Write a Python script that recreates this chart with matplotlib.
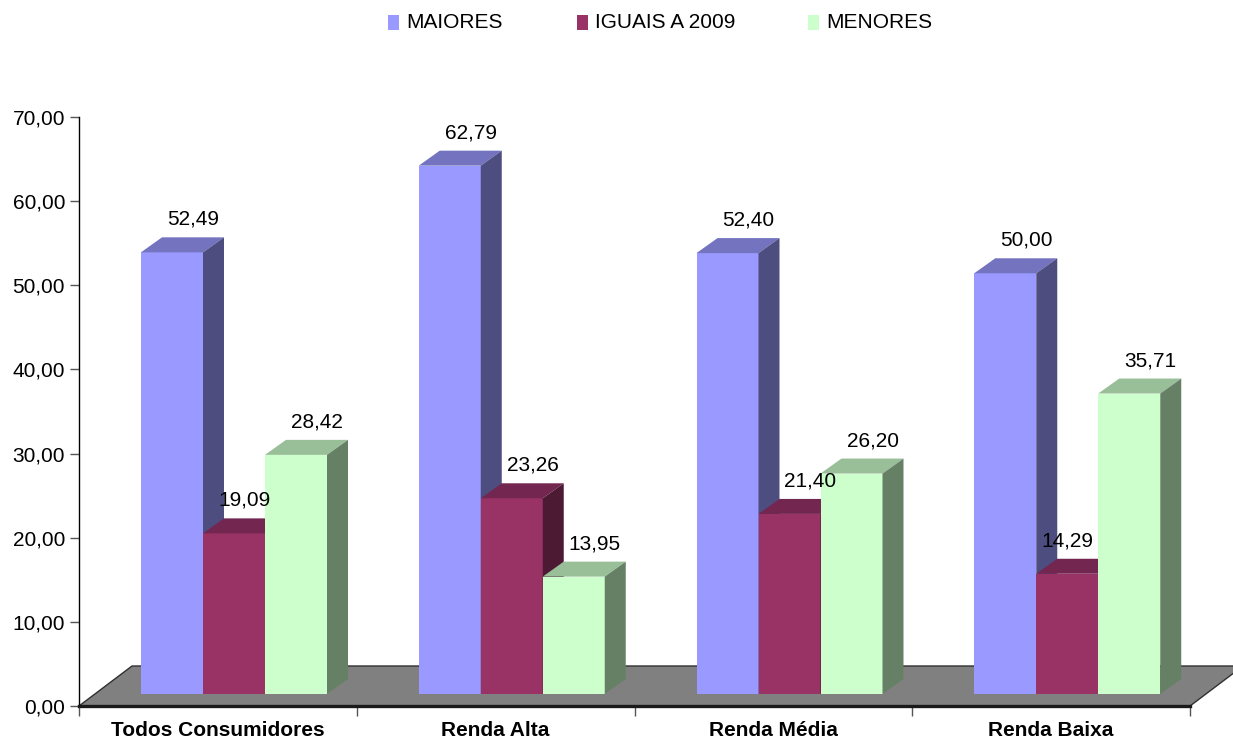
import matplotlib.pyplot as plt
from matplotlib.patches import Polygon, Rectangle

categorias = ['Todos Consumidores', 'Renda Alta', 'Renda Média', 'Renda Baixa']
series = ['MAIORES', 'IGUAIS A 2009', 'MENORES']
maiores = [52.49, 62.79, 52.40, 50.00]
iguais = [19.09, 23.26, 21.40, 14.29]
menores = [28.42, 13.95, 26.20, 35.71]
valores = [maiores, iguais, menores]

# cores: frente, topo (mais escuro) e lateral (sombra)
cor_frente = ['#9999FF', '#993366', '#CCFFCC']
cor_topo = ['#7373BF', '#732650', '#99BF99']
cor_lado = ['#4D4D80', '#4D1A33', '#668066']

plt.rcParams['font.family'] = ['Liberation Sans', 'DejaVu Sans']

W, H = 1233, 743
fig = plt.figure(figsize=(W / 100, H / 100), dpi=100)
ax = fig.add_axes([79 / W, 37 / H, 1111 / W, 589 / H])
ax.set_xlim(0, 4)
ax.set_ylim(0, 70)

# conversao pixel -> unidades do grafico (para o efeito 3D)
px_x = 4 / 1111
px_y = 70 / 589

# piso cinza em perspectiva
piso_dx, piso_dy = 53 * px_x, 40 * px_y
piso = Polygon([(0, 0), (4, 0), (4 + piso_dx, piso_dy), (piso_dx, piso_dy)],
               closed=True, facecolor='#808080', edgecolor='#303030',
               linewidth=1, clip_on=False, zorder=1)
ax.add_patch(piso)

# barras 3D
larg = 62 / 277.75
margem = 46 / 277.75
fx, fy = 16 * px_x, 12 * px_y     # recuo da face frontal
bx, by = 21 * px_x, 15 * px_y     # profundidade da barra
# pequenos ajustes de posicao de rotulos (Excel desloca alguns)
ajuste = {(0, 1): -10 * px_x, (3, 1): -21 * px_x}

for i in range(len(categorias)):
    for j in range(len(series)):
        v = valores[j][i]
        x = i + margem + j * larg + fx
        z = 2 + i * 3 + j
        ax.add_patch(Rectangle((x, fy), larg, v, facecolor=cor_frente[j],
                               edgecolor='none', zorder=z))
        ax.add_patch(Polygon([(x, v + fy), (x + larg, v + fy),
                              (x + larg + bx, v + fy + by), (x + bx, v + fy + by)],
                             closed=True, facecolor=cor_topo[j], edgecolor='none',
                             zorder=z))
        ax.add_patch(Polygon([(x + larg, fy), (x + larg + bx, fy + by),
                              (x + larg + bx, v + fy + by), (x + larg, v + fy)],
                             closed=True, facecolor=cor_lado[j], edgecolor='none',
                             zorder=z))
        ax.text(x + larg / 2 + bx + ajuste.get((i, j), 0), v + fy + 33 * px_y,
                f'{v:.2f}'.replace('.', ','), ha='center', va='center',
                fontsize=15, color='black', zorder=50)

# eixos
for s in ['top', 'right']:
    ax.spines[s].set_visible(False)
ax.spines['left'].set_linewidth(1)
ax.spines['bottom'].set_linewidth(2.4)
ax.spines['bottom'].set_color('#1a1a1a')
ax.spines['bottom'].set_zorder(40)

ax.set_yticks(range(0, 71, 10))
ax.set_yticklabels([f'{t},00' for t in range(0, 71, 10)])
ax.tick_params(axis='y', direction='out', length=6.5, width=1, pad=3.5,
               labelsize=15, color='#555555')

ax.set_xticks(range(0, 5))
ax.set_xticklabels([])
ax.set_xticks([k + 0.5 for k in range(4)], minor=True)
ax.set_xticklabels(categorias, minor=True, fontsize=15, fontweight='bold')
ax.tick_params(axis='x', which='major', direction='out', length=7.5, width=1,
               color='#555555')
ax.tick_params(axis='x', which='minor', length=0, pad=11)

# legenda
leg_x = [388, 577, 808]
for j, nome in enumerate(series):
    fig.patches.append(Rectangle((leg_x[j] / W, 1 - 30 / H), 11 / W, 15 / H,
                                 transform=fig.transFigure,
                                 facecolor=cor_frente[j], edgecolor='none'))
    fig.text((leg_x[j] + 18) / W, 1 - 22 / H, nome, fontsize=15,
             ha='left', va='center')

plt.savefig('out.png', dpi=100)
